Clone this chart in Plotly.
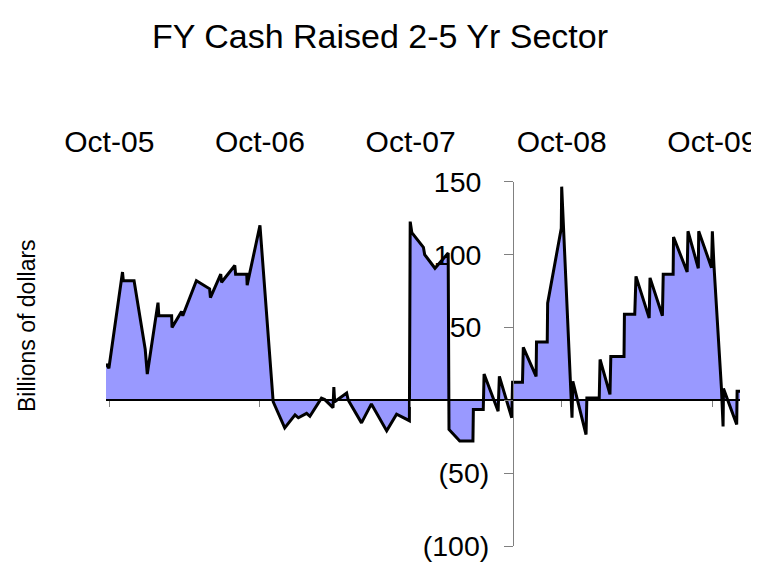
import plotly.graph_objects as go

title_text = "FY Cash Raised 2-5 Yr Sector"
y_title = "Billions of dollars"

dates = [
    "2005-09-23", "2005-09-30", "2005-11-02", "2005-11-04", "2005-11-30", "2005-12-27",
    "2006-01-01", "2006-01-27", "2006-01-29", "2006-03-01", "2006-03-02", "2006-03-25",
    "2006-03-28", "2006-04-30", "2006-06-01", "2006-06-03", "2006-06-28", "2006-06-30",
    "2006-08-01", "2006-08-03", "2006-08-30", "2006-08-31", "2006-10-01", "2006-11-02",
    "2006-11-30", "2006-12-25", "2007-01-02", "2007-01-22", "2007-01-30", "2007-02-27",
    "2007-03-07", "2007-03-27", "2007-03-29", "2007-03-31", "2007-04-29", "2007-05-03",
    "2007-06-04", "2007-06-28", "2007-08-04", "2007-08-28", "2007-09-28", "2007-09-30",
    "2007-10-04", "2007-11-01", "2007-11-04", "2007-11-29", "2007-12-31", "2008-01-02",
    "2008-01-28", "2008-02-29", "2008-03-01", "2008-03-25", "2008-03-27", "2008-04-30",
    "2008-05-03", "2008-06-02", "2008-06-04", "2008-06-28", "2008-06-30", "2008-07-31",
    "2008-08-01", "2008-08-27", "2008-08-28", "2008-09-30", "2008-10-01", "2008-10-26",
    "2008-10-28", "2008-11-29", "2008-12-01", "2008-12-31", "2009-01-02", "2009-01-26",
    "2009-01-28", "2009-03-01", "2009-03-02", "2009-03-27", "2009-03-30", "2009-05-01",
    "2009-05-03", "2009-06-02", "2009-06-04", "2009-06-28", "2009-06-29", "2009-08-01",
    "2009-08-03", "2009-08-28", "2009-08-29", "2009-09-29", "2009-10-01", "2009-10-05",
    "2009-10-23", "2009-10-27", "2009-10-28", "2009-11-29", "2009-11-30", "2009-12-07",
]

cash_raised = [
    25, 22, 88, 82, 82, 35,
    18, 67, 58, 58, 50, 61,
    58, 82, 76.5, 70.5, 86.5, 81,
    92.5, 86.5, 86.5, 79, 120, -1,
    -19, -10, -12, -9, -11, 1.5,
    0.5, -5, 9, -1, 5, 0,
    -15.5, -2.5, -21, -9.5, -14, 122.6,
    115, 105, 100, 90.6, 101, -20,
    -28, -28, -6.4, -6.4, 18, -7.5,
    16.4, -12, 12.3, 12.3, 36.3, 16.4,
    40, 40, 66.6, 118, 146.6, -12,
    13, -23.5, 1.6, 1.6, 28, 4,
    30, 30, 59, 59, 85, 56.4,
    84, 58, 86.5, 86.5, 112, 88,
    116, 90.6, 116, 91, 116, 92,
    8.4, -18, 8, -16.6, 6.2, 6.2,
]

x_tick_dates = ["2005-10-01", "2006-10-01", "2007-10-01", "2008-10-01", "2009-10-01"]
x_tick_labels = ["Oct-05", "Oct-06", "Oct-07", "Oct-08", "Oct-09"]

y_tick_vals = [-100, -50, 0, 50, 100, 150]
# accounting format: positive numbers keep a trailing pad where ")" would be
y_tick_labels = ["(100)", "(50)", "", "50\u00a0", "100\u00a0", "150\u00a0"]

x_range = [dates[0], dates[-1]]
y_range = [-100, 150]

FONT = "Liberation Sans, Arial, sans-serif"

# page body adds an 8px offset; layout positions below are in figure pixels
W, H = 759, 570
ml, mr, mt, mb = 98, 27, 100, 32
plot_w = W - ml - mr
plot_h = H - mt - mb
y_dom_top = ((H - mb) - 173.7) / plot_h
zero_pos = y_dom_top * (0 - y_range[0]) / (y_range[1] - y_range[0])
label_axis_pos = ((H - mb) - 150) / plot_h
y_axis_pos = (505 - ml) / plot_w

fig = go.Figure()
fig.add_trace(go.Scatter(
    x=dates, y=cash_raised, mode="lines", fill="tozeroy",
    fillcolor="#9999FF", line=dict(color="black", width=3),
    xaxis="x", yaxis="y", showlegend=False, hoverinfo="x+y",
))
fig.add_trace(go.Scatter(
    x=[], y=[], mode="lines", xaxis="x2", yaxis="y", showlegend=False, hoverinfo="skip",
))

fig.update_layout(
    width=W, height=H,
    margin=dict(l=ml, r=mr, t=mt, b=mb, autoexpand=False),
    paper_bgcolor="white", plot_bgcolor="white",
    font=dict(family=FONT, color="black"),
    title=dict(text=title_text, x=372 / W, xref="container", xanchor="center",
               y=1 - 28 / H, yref="container", yanchor="middle",
               font=dict(size=34, family=FONT, color="black")),
    xaxis=dict(type="date", range=x_range, side="top", anchor="free",
               position=label_axis_pos, showline=False, showgrid=False,
               zeroline=False, ticks="", tickvals=x_tick_dates, automargin=False,
               ticktext=x_tick_labels, tickfont=dict(size=30, family=FONT)),
    xaxis2=dict(type="date", range=x_range, overlaying="x", side="bottom",
                anchor="free", position=zero_pos, showline=True, automargin=False,
                linecolor="black", linewidth=2, showgrid=False, zeroline=False,
                ticks="outside", ticklen=6, tickcolor="#808080", tickwidth=1,
                tickvals=x_tick_dates, showticklabels=False, layer="above traces"),
    yaxis=dict(range=y_range, domain=[0, y_dom_top], anchor="free", automargin=False,
               position=y_axis_pos, showline=True, linecolor="#808080",
               linewidth=1, showgrid=False, zeroline=False, ticks="outside",
               ticklen=9, tickcolor="#808080", tickvals=y_tick_vals,
               ticktext=y_tick_labels, tickfont=dict(size=28.5, family=FONT),
               ticklabelstandoff=9),
    annotations=[dict(
        text=y_title, textangle=-90, xref="paper", yref="paper",
        x=(19 - ml) / plot_w, y=((H - mb) - 318) / plot_h,
        xanchor="center", yanchor="middle", showarrow=False,
        font=dict(size=23, family=FONT, color="black"),
    )],
)

fig.write_html("out.html")
